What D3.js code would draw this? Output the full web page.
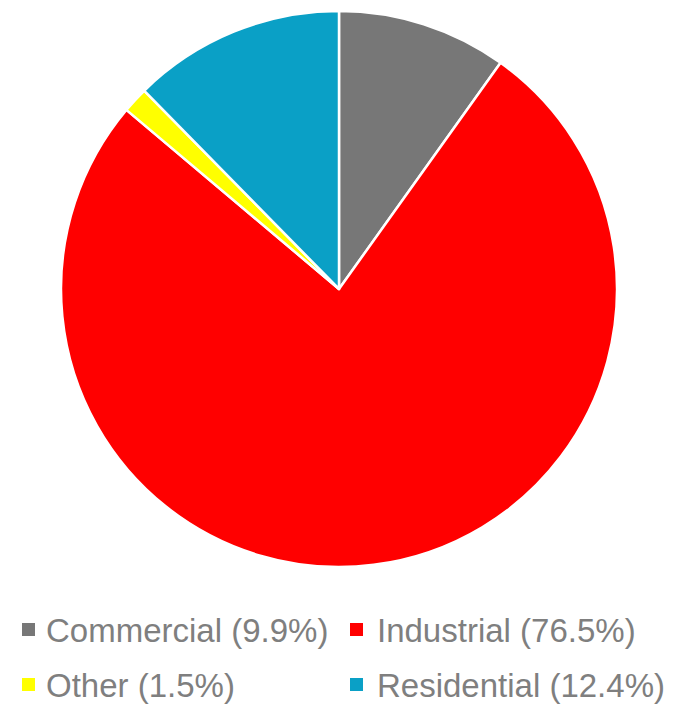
<!DOCTYPE html>
<html>
<head>
<meta charset="utf-8">
<script src="https://cdn.jsdelivr.net/npm/d3@7"></script>
<style>
  html, body { margin: 0; padding: 0; background: #fff; }
  svg { display: block; }
</style>
</head>
<body>
<svg id="chart" width="679" height="706"></svg>
<script>
const categories = ["Commercial", "Industrial", "Other", "Residential"];
const values = [9.9, 76.5, 1.5, 12.4];
const colors = ["#777777", "#ff0000", "#ffff00", "#0aa0c6"];
const legendLabels = ["Commercial (9.9%)", "Industrial (76.5%)", "Other (1.5%)", "Residential (12.4%)"];

const data = categories.map((c, i) => ({ name: c, value: values[i], color: colors[i], label: legendLabels[i] }));

const svg = d3.select("#chart");
const cx = 339, cy = 289, r = 278;

const pie = d3.pie().value(d => d.value).sort(null);
const arc = d3.arc().innerRadius(0).outerRadius(r);

svg.append("g")
  .attr("transform", `translate(${cx},${cy})`)
  .selectAll("path")
  .data(pie(data))
  .join("path")
  .attr("d", arc)
  .attr("fill", d => d.data.color)
  .attr("stroke", "#ffffff")
  .attr("stroke-width", 2.5)
  .attr("stroke-linejoin", "round");

// Legend
const colX = [22, 350];
const textX = [46, 377];
const rowY = [642, 697];
const legend = svg.append("g");
data.forEach((d, i) => {
  const col = i % 2, row = Math.floor(i / 2);
  legend.append("rect")
    .attr("x", colX[col])
    .attr("y", rowY[row] - 19)
    .attr("width", 13)
    .attr("height", 13)
    .attr("fill", d.color);
  legend.append("text")
    .attr("x", textX[col])
    .attr("y", rowY[row])
    .attr("font-family", "'Liberation Sans', Arial, sans-serif")
    .attr("font-size", 33)
    .attr("fill", "#7f7f7f")
    .text(d.label);
});
</script>
</body>
</html>
